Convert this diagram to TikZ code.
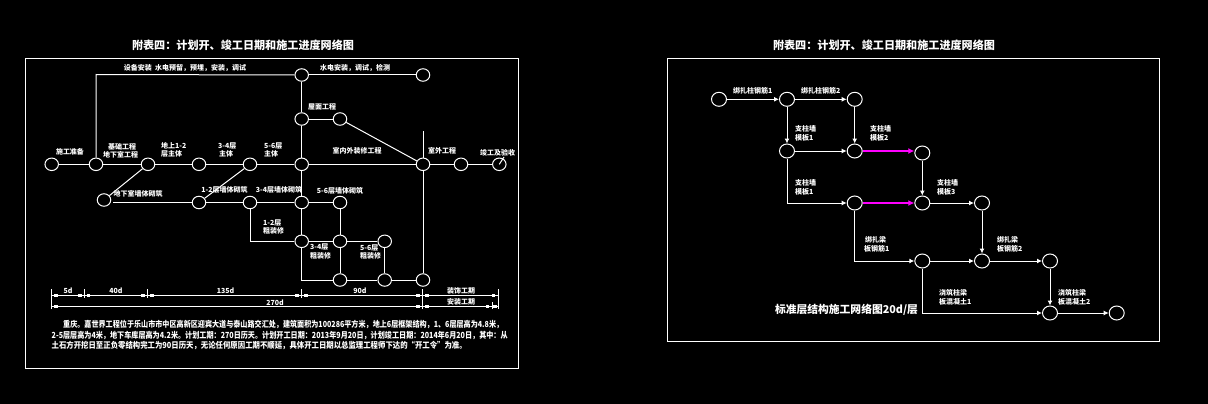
\documentclass[tikz,border=0pt]{standalone}
\usepackage{fontspec}
\usepackage{graphicx}
\setmainfont{Noto Sans CJK SC}
\usetikzlibrary{shapes.geometric,arrows.meta}
\definecolor{mag}{RGB}{255,0,255}
\tikzset{
  ev/.style={ellipse,draw=white,line width=1pt,fill=none,inner sep=0pt,minimum width=13.5pt,minimum height=12.5pt},
  evb/.style={ev,minimum width=15pt,minimum height=14pt},
  wl/.style={draw=white,line width=1pt},
  al/.style={wl,-{Latex[length=5pt,width=5pt]}},
  ml/.style={draw=mag,fill=mag,line width=1.2pt,-{Latex[length=6pt,width=6pt]}},
  frm/.style={draw=white,line width=1pt},
  lb/.style={text=white,inner sep=0pt,font=\fontsize{7}{8}\selectfont\bfseries},
  lbw/.style={text=white,inner sep=0pt,anchor=west,font=\fontsize{7}{8}\selectfont\bfseries},
  ttl/.style={text=white,inner sep=0pt,font=\fontsize{11}{12}\selectfont\bfseries},
  par/.style={text=white,inner sep=0pt,anchor=west,font=\fontsize{8}{9}\selectfont\bfseries},
}
\begin{document}
\begin{tikzpicture}[x=1pt,y=-1pt]
\fill[black] (0,0) rectangle (1208,404);
\useasboundingbox (0,0) rectangle (1208,404);
% ---------- frames ----------
\draw[frm] (25.7,58.3) rectangle (518.7,368.3);
\draw[frm] (667.3,58.3) rectangle (1159.3,341.3);
\node[ttl] (tA) at (243,45) {\resizebox{222pt}{!}{附表四：计划开、竣工日期和施工进度网络图}};
\node[ttl] (tB) at (884,45) {\resizebox{222pt}{!}{附表四：计划开、竣工日期和施工进度网络图}};
% ---------- left network nodes ----------
\node[ev] (A) at (51.7,164.3) {};
\node[ev] (B) at (96,164.3) {};
\node[ev] (C) at (148,164.3) {};
\node[ev] (D) at (199,164.3) {};
\node[ev] (E) at (250,164.3) {};
\node[ev] (F) at (301.7,164.3) {};
\node[ev] (G) at (423,164.3) {};
\node[ev] (H) at (461,164.3) {};
\node[ev] (I) at (499.3,164.3) {};
\node[ev] (T1) at (301.7,75) {};
\node[ev] (T2) at (423,75) {};
\node[ev] (R1) at (301.7,119) {};
\node[ev] (R2) at (340,119) {};
\node[ev] (S0) at (104,200) {};
\node[ev] (S1) at (199,202.5) {};
\node[ev] (S2) at (250,202.5) {};
\node[ev] (S3) at (301.7,202.5) {};
\node[ev] (S4) at (340,202.5) {};
\node[ev] (M1) at (301.7,241.3) {};
\node[ev] (M2) at (340,241.3) {};
\node[ev] (M3) at (384.7,241.3) {};
\node[ev] (N1) at (340,280) {};
\node[ev] (N2) at (384.7,280) {};
\node[ev] (N3) at (423,280) {};
\coordinate (Bup) at (96,74.5);
\coordinate (Gup) at (423,131);
\coordinate (S0r) at (113,202.5);
\coordinate (M0) at (250,241.3);
\coordinate (N0) at (301.7,280);
\coordinate (Ilead) at (504,157);
% ---------- left connectors ----------
\draw[wl] (A) -- (B);
\draw[wl] (B) -- (C);
\draw[wl] (C) -- (D);
\draw[wl] (D) -- (E);
\draw[wl] (E) -- (F);
\draw[wl] (F) -- (G);
\draw[wl] (G) -- (H);
\draw[wl] (H) -- (I);
\draw[wl] (B) -- (Bup) -- (T1);
\draw[wl] (T1) -- (T2);
\draw[wl] (T1) -- (R1);
\draw[wl] (R1) -- (F);
\draw[wl] (R1) -- (R2);
\draw[wl] (R2) -- (G);
\draw[wl] (Gup) -- (G);
\draw[wl] (G) -- (N3);
\draw[wl] (F) -- (S3);
\draw[wl] (S3) -- (M1);
\draw[wl] (M1) -- (N0) -- (N1);
\draw[wl] (C) -- (S0);
\draw[wl] (E) -- (S1);
\draw[wl] (S0r) -- (S1);
\draw[wl] (S1) -- (S2);
\draw[wl] (S2) -- (S3);
\draw[wl] (S3) -- (S4);
\draw[wl] (S2) -- (M0) -- (M1);
\draw[wl] (M1) -- (M2);
\draw[wl] (M2) -- (M3);
\draw[wl] (S4) -- (M2);
\draw[wl] (M2) -- (N1);
\draw[wl] (M3) -- (N2);
\draw[wl] (N1) -- (N2);
\draw[wl] (N2) -- (N3);
\draw[wl] (I.center) -- (Ilead);
% ---------- left labels ----------
\node[lb] (a1) at (185,68) {设备安装\ \ 水电预留，预埋，安装，调试};
\node[lb] (a2) at (355,68) {水电安装，调试，检测};
\node[lb] (a3) at (322,107) {屋面工程};
\node[lb] (a4) at (357,151) {室内外装修工程};
\node[lb] (a5) at (442,151) {室外工程};
\node[lb] (a6) at (497.5,153) {竣工及验收};
\node[lb] (a7) at (70,152) {施工准备};
\node[lb] (a8) at (122,147) {基础工程};
\node[lb] (a9) at (120.5,155) {地下室工程};
\node[lbw] (a10) at (161,146) {地上1-2};
\node[lbw] (a11) at (161,153.5) {层主体};
\node[lbw] (a12) at (218,146) {3-4层};
\node[lbw] (a13) at (219,153.5) {主体};
\node[lbw] (a14) at (264,146) {5-6层};
\node[lbw] (a15) at (264,153.5) {主体};
\node[lb] (a16) at (138,194) {地下室墙体砌筑};
\node[lb] (a17) at (224.5,189.5) {1-2层墙体砌筑};
\node[lb] (a18) at (279,190) {3-4层墙体砌筑};
\node[lb] (a19) at (340,190.5) {5-6层墙体砌筑};
\node[lbw] (a20) at (263,223) {1-2层};
\node[lbw] (a21) at (263,231) {粗装修};
\node[lbw] (a22) at (310,247.5) {3-4层};
\node[lbw] (a23) at (310,255.5) {粗装修};
\node[lbw] (a24) at (360,248) {5-6层};
\node[lbw] (a25) at (360,256) {粗装修};
% ---------- time scale ----------
\coordinate (D1a) at (51.7,295.3);
\coordinate (D1b) at (498.3,295.3);
\coordinate (D2a) at (51.7,306.3);
\coordinate (D2b) at (498.3,306.3);
\draw[wl] (D1a) -- (D1b);
\draw[wl] (D2a) -- (D2b);
\foreach \x in {51.7,422.3,498.3} \draw[wl] (\x,289) -- (\x,309);
\foreach \x in {84.3,147.3,301.7} \draw[wl] (\x,289) -- (\x,298);
\draw[wl] (492,302) -- (492,309);
\foreach \x in {56,80,88.5,143,152,297,306,418,427,493.5}
  \fill[white] (\x-1.7,294) rectangle (\x+1.7,296.8);
\foreach \x in {56,418,427,487.5,495}
  \fill[white] (\x-1.7,305) rectangle (\x+1.7,307.8);
\node[lb] (d1) at (68,291) {5d};
\node[lb] (d2) at (116,291) {40d};
\node[lb] (d3) at (225.5,291) {135d};
\node[lb] (d4) at (360,291) {90d};
\node[lb] (d5) at (275,302.5) {270d};
\node[lb] (d6) at (461,290.5) {装饰工期};
\node[lb] (d7) at (461,302) {安装工期};
% ---------- paragraph ----------
\node[par] (p1) at (63,324.3) {\resizebox*{440pt}{8.6pt}{重庆。嘉世界工程位于乐山市市中区高新区迎宾大道与泰山路交汇处，建筑面积为100286平方米，地上6层框架结构，1、6层层高为4.8米，}};
\node[par] (p2) at (51.5,335) {\resizebox*{456pt}{8.6pt}{2-5层层高为4米，地下车库层高为4.2米。计划工期：270日历天。计划开工日期：2013年9月20日，计划竣工日期：2014年6月20日，其中：从}};
\node[par] (p3) at (51.5,345.7) {\resizebox*{415pt}{8.6pt}{土石方开挖日至正负零结构完工为90日历天，无论任何原因工期不顺延，具体开工日期以总监理工程师下达的“开工令”为准。}};
% ---------- right network nodes ----------
\node[evb] (n1) at (719,99.3) {};
\node[evb] (n2) at (787,99.3) {};
\node[evb] (n3) at (854.7,99.3) {};
\node[evb] (n4) at (787,151) {};
\node[evb] (n5) at (854.7,151) {};
\node[evb] (n6) at (922.3,153) {};
\node[evb] (n7) at (854.7,203) {};
\node[evb] (n8) at (922.3,203) {};
\node[evb] (n9) at (982,203) {};
\node[evb] (n10) at (922.3,261) {};
\node[evb] (n11) at (982,261) {};
\node[evb] (n12) at (1050,261) {};
\node[evb] (n13) at (1050,313) {};
\node[evb] (n14) at (1116.7,313) {};
% ---------- right connectors ----------
\draw[al] (n1) -- (n2);
\draw[al] (n2) -- (n3);
\draw[al] (n2) -- (n4);
\draw[al] (n3) -- (n5);
\draw[al] (n4) -- (n5);
\draw[ml] (n5) -- (n5 -| n6.west);
\draw[al] (n6) -- (n8);
\draw[al] (n4) |- (n7);
\draw[ml] (n7) -- (n8);
\draw[al] (n8) -- (n9);
\draw[al] (n9) -- (n11);
\draw[al] (n7) |- (n10);
\draw[al] (n10) -- (n11);
\draw[al] (n11) -- (n12);
\draw[al] (n12) -- (n13);
\draw[al] (n10) |- (n13);
\draw[al] (n13) -- (n14);
% ---------- right labels ----------
\node[lbw] (b1) at (733,90.7) {绑扎柱钢筋1};
\node[lbw] (b2) at (801,90.7) {绑扎柱钢筋2};
\node[lbw] (b3) at (795,129) {支柱墙};
\node[lbw] (b4) at (795,138) {模板1};
\node[lbw] (b5) at (870,129) {支柱墙};
\node[lbw] (b6) at (870,138) {模板2};
\node[lbw] (b7) at (795,182.7) {支柱墙};
\node[lbw] (b8) at (795,191.7) {模板1};
\node[lbw] (b9) at (937,182.7) {支柱墙};
\node[lbw] (b10) at (937,191.7) {模板3};
\node[lbw] (b11) at (865,240) {绑扎梁};
\node[lbw] (b12) at (864,249) {板钢筋1};
\node[lbw] (b13) at (997,240) {绑扎梁};
\node[lbw] (b14) at (997,249) {板钢筋2};
\node[lbw] (b15) at (939,292.7) {浇筑柱梁};
\node[lbw] (b16) at (939,302) {板混凝土1};
\node[lbw] (b17) at (1058,292.7) {浇筑柱梁};
\node[lbw] (b18) at (1058,302) {板混凝土2};
\node[text=white,inner sep=0pt,font=\fontsize{12.5}{14}\selectfont\bfseries] (b19) at (846.5,310) {\resizebox{143pt}{!}{标准层结构施工网络图20d/层}};
\end{tikzpicture}
\end{document}
